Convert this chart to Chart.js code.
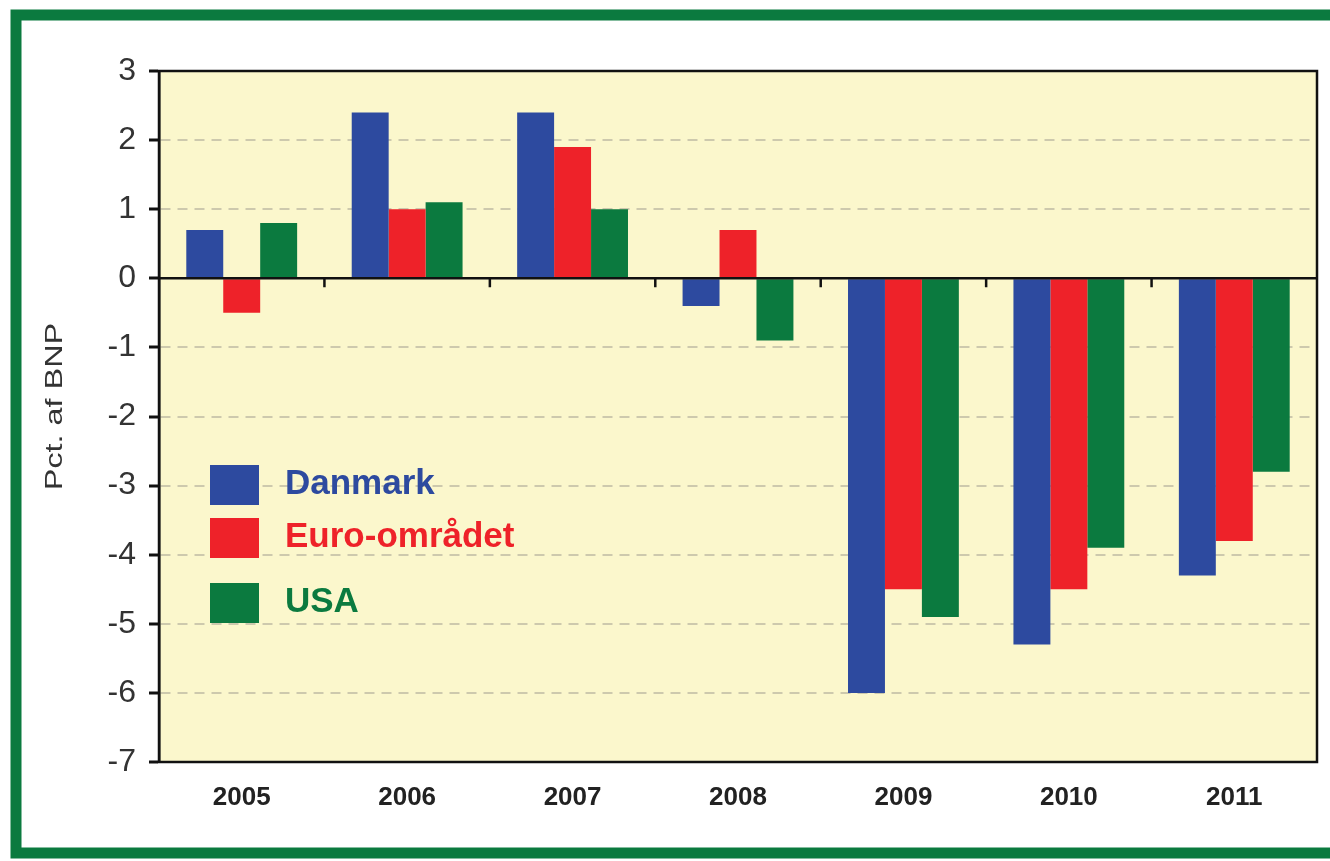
<!DOCTYPE html>
<html>
<head>
<meta charset="utf-8">
<script src="https://cdn.jsdelivr.net/npm/chart.js@4"></script>
<style>
  html, body { margin: 0; padding: 0; background: #fff; }
  #wrap { width: 1330px; height: 861px; }
</style>
</head>
<body>
<div id="wrap"><canvas id="budgetChart" width="1330" height="861"></canvas></div>
<script>
// data
const years = ['2005', '2006', '2007', '2008', '2009', '2010', '2011'];
const danmark = [0.7, 2.4, 2.4, -0.4, -6.0, -5.3, -4.3];
const euroOmraadet = [-0.5, 1.0, 1.9, 0.7, -4.5, -4.5, -3.8];
const usa = [0.8, 1.1, 1.0, -0.9, -4.9, -3.9, -2.8];
const seriesNames = ['Danmark', 'Euro-området', 'USA'];
const seriesColors = ['#2d4a9f', '#ee2229', '#0b7a3f'];
const yTicks = [3, 2, 1, 0, -1, -2, -3, -4, -5, -6, -7];
const yTitle = 'Pct. af BNP';

const sans = '"Liberation Sans", Arial, sans-serif';

// frame, plot background, zero line with ticks, box, legend, axis title
const decorations = {
    id: 'decorations',
    beforeDraw(chart) {
        const ctx = chart.ctx;
        const a = chart.chartArea;
        ctx.save();
        ctx.fillStyle = '#ffffff';
        ctx.fillRect(0, 0, chart.width, chart.height);
        ctx.strokeStyle = '#0b7a3f';
        ctx.lineWidth = 11;
        ctx.strokeRect(16, 15, chart.width + 20, 838);
        ctx.fillStyle = '#fbf7cc';
        ctx.fillRect(a.left, a.top, a.right - a.left, a.bottom - a.top);
        ctx.restore();
    },
    afterDatasetsDraw(chart) {
        const ctx = chart.ctx;
        const a = chart.chartArea;
        const x = chart.scales.x;
        const y = chart.scales.y;
        const y0 = y.getPixelForValue(0);
        ctx.save();
        ctx.strokeStyle = '#111';
        ctx.lineWidth = 2.5;
        ctx.beginPath();
        ctx.moveTo(a.left, y0);
        ctx.lineTo(a.right, y0);
        for (let i = 0; i < years.length - 1; i++) {
            const bx = (x.getPixelForValue(i) + x.getPixelForValue(i + 1)) / 2;
            ctx.moveTo(bx, y0);
            ctx.lineTo(bx, y0 + 9);
        }
        ctx.stroke();
        ctx.lineWidth = 2.5;
        ctx.strokeRect(a.left, a.top, a.right - a.left, a.bottom - a.top);

        // legend inside plot
        const lx = 210, ly = [465, 518, 583];
        ctx.font = 'bold 35px ' + sans;
        ctx.textBaseline = 'middle';
        chart.data.datasets.forEach((ds, i) => {
            ctx.fillStyle = ds.backgroundColor;
            ctx.fillRect(lx, ly[i], 49, 40);
            ctx.fillText(ds.label, lx + 75, ly[i] + 19);
        });

        // y-axis title, tall and stretched like the original
        ctx.translate(55, (a.top + a.bottom) / 2 - 10);
        ctx.rotate(-Math.PI / 2);
        ctx.scale(1.35, 1);
        ctx.font = '24px ' + sans;
        ctx.fillStyle = '#333';
        ctx.textAlign = 'center';
        ctx.fillText(yTitle, 0, 0);
        ctx.restore();
    }
};

const ctx = document.getElementById('budgetChart').getContext('2d');
const myChart = new Chart(ctx, {
    type: 'bar',
    data: {
        labels: years,
        datasets: [
            { label: seriesNames[0], data: danmark, backgroundColor: seriesColors[0] },
            { label: seriesNames[1], data: euroOmraadet, backgroundColor: seriesColors[1] },
            { label: seriesNames[2], data: usa, backgroundColor: seriesColors[2] }
        ]
    },
    options: {
        responsive: false,
        animation: false,
        devicePixelRatio: 1,
        layout: { padding: { top: 71, right: 13, bottom: 0, left: 0 } },
        datasets: {
            bar: { categoryPercentage: 0.67, barPercentage: 1.0, borderWidth: 0 }
        },
        plugins: {
            legend: { display: false },
            tooltip: { enabled: false }
        },
        scales: {
            x: {
                afterFit(scale) { scale.height = 99; },
                grid: { display: false, drawTicks: false },
                border: { display: false },
                ticks: {
                    padding: 20,
                    color: '#222',
                    font: { family: sans, size: 26, weight: 'bold' }
                }
            },
            y: {
                min: -7,
                max: 3,
                afterFit(scale) { scale.width = 159; },
                afterBuildTicks(scale) { scale.ticks = yTicks.map(v => ({ value: v })); },
                grid: {
                    color: c => (c.tick && (c.tick.value === 0 || c.tick.value === 3 || c.tick.value === -7)) ? 'rgba(0,0,0,0)' : '#cdc9ad',
                    lineWidth: 2,
                    drawTicks: true,
                    tickLength: 10,
                    tickColor: '#111',
                    tickWidth: 3
                },
                border: { display: true, color: '#111', width: 2.5, dash: [10, 7] },
                ticks: {
                    padding: 13,
                    color: '#333',
                    font: { family: sans, size: 32 }
                },
                title: { display: false }
            }
        }
    },
    plugins: [decorations]
});
</script>
</body>
</html>
